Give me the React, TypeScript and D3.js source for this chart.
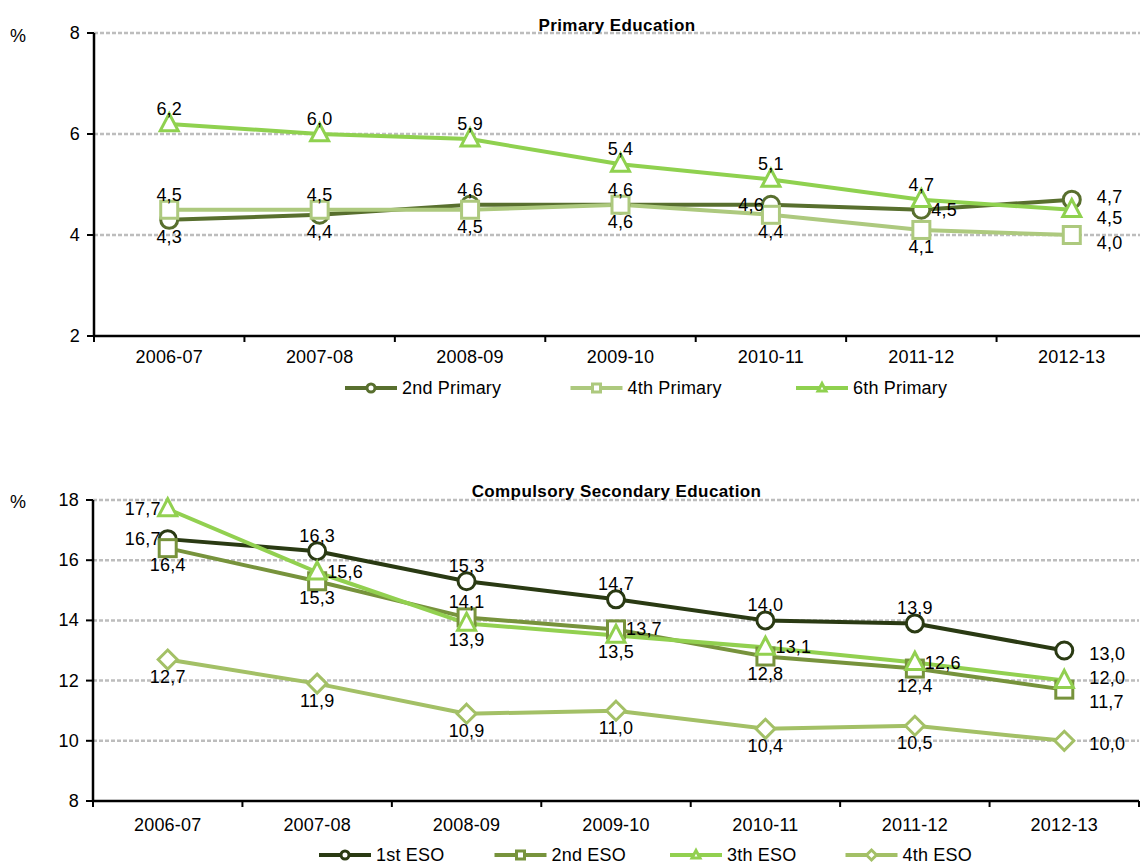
import React from "react";
import * as d3 from "d3";

// ---------- DATA ----------
const years = ["2006-07", "2007-08", "2008-09", "2009-10", "2010-11", "2011-12", "2012-13"];

const primaryTicks = [2, 4, 6, 8];
const secondaryTicks = [8, 10, 12, 14, 16, 18];

const primary2nd = [4.3, 4.4, 4.6, 4.6, 4.6, 4.5, 4.7];
const primary4th = [4.5, 4.5, 4.5, 4.6, 4.4, 4.1, 4.0];
const primary6th = [6.2, 6.0, 5.9, 5.4, 5.1, 4.7, 4.5];

const eso1st = [16.7, 16.3, 15.3, 14.7, 14.0, 13.9, 13.0];
const eso2nd = [16.4, 15.3, 14.1, 13.7, 12.8, 12.4, 11.7];
const eso3th = [17.7, 15.6, 13.9, 13.5, 13.1, 12.6, 12.0];
const eso4th = [12.7, 11.9, 10.9, 11.0, 10.4, 10.5, 10.0];

// data-label placement (t=top, b=bottom, l=left, r=right, R=far right, D=far right lower, U=far right upper, E=far right lowest)
const place2nd = ["b", "b", "t", "t", "l", "r", "U"];
const place4th = ["t", "t", "b", "b", "b", "b", "D"];
const place6th = ["t", "t", "t", "t", "t", "t", "D"];
const placeEso1 = ["l", "t", "t", "t", "t", "t", "R"];
const placeEso2 = ["b", "b", "t", "r", "b", "b", "E"];
const placeEso3 = ["l", "r", "b", "b", "r", "r", "U"];
const placeEso4 = ["b", "b", "b", "b", "b", "b", "R"];

// ---------- STYLE ----------
const FONT = "'Liberation Sans', Arial, sans-serif";
const FS = 18;
const LS = 0.2;

type Shape = "circle" | "square" | "triangle" | "diamond";
interface Series {
  name: string;
  values: number[];
  place: string[];
  color: string;
  shape: Shape;
}

const primarySeries: Series[] = [
  { name: "2nd Primary", values: primary2nd, place: place2nd, color: "#586f2e", shape: "circle" },
  { name: "4th Primary", values: primary4th, place: place4th, color: "#adc97e", shape: "square" },
  { name: "6th Primary", values: primary6th, place: place6th, color: "#8fd14f", shape: "triangle" },
];

const esoSeries: Series[] = [
  { name: "1st ESO", values: eso1st, place: placeEso1, color: "#2a3a13", shape: "circle" },
  { name: "2nd ESO", values: eso2nd, place: placeEso2, color: "#77933c", shape: "square" },
  { name: "3th ESO", values: eso3th, place: placeEso3, color: "#92d050", shape: "triangle" },
  { name: "4th ESO", values: eso4th, place: placeEso4, color: "#a3c066", shape: "diamond" },
];

function Marker({ x, y, shape, color, size, sw }: { x: number; y: number; shape: Shape; color: string; size: number; sw: number }) {
  const common = { fill: "#fff", stroke: color, strokeWidth: sw };
  if (shape === "circle") return <circle cx={x} cy={y} r={size / 2} {...common} />;
  if (shape === "square")
    return <rect x={x - size / 2} y={y - size / 2} width={size} height={size} {...common} />;
  if (shape === "triangle") {
    const h = size * 0.95;
    return (
      <path
        d={`M${x},${y - h * 0.6} L${x + size / 2},${y + h * 0.4} L${x - size / 2},${y + h * 0.4} Z`}
        {...common}
        strokeLinejoin="miter"
      />
    );
  }
  const s = size / 2 + 1;
  return <path d={`M${x},${y - s} L${x + s},${y} L${x},${y + s} L${x - s},${y} Z`} {...common} />;
}

const fmt = (v: number) => v.toFixed(1).replace(".", ",");

interface ChartProps {
  title: string;
  series: Series[];
  ticks: number[];
  left: number;
  right: number;
  top: number;
  bottom: number;
  titleY: number;
  percentY: number;
  xLabelY: number;
  legendY: number;
  legendStart: number;
  legendStep: number;
}

function Chart(p: ChartProps) {
  const x = d3.scaleBand<string>().domain(years).range([p.left, p.right]);
  const cx = (c: string) => (x(c) as number) + x.bandwidth() / 2;
  const y = d3
    .scaleLinear()
    .domain([p.ticks[0], p.ticks[p.ticks.length - 1]])
    .range([p.bottom, p.top]);
  const line = d3
    .line<number>()
    .x((_, i) => cx(years[i]))
    .y((v) => y(v));

  const boundaries = years.map((c) => x(c) as number).concat([p.right]);

  const labelFor = (s: Series, v: number, i: number) => {
    const px = cx(years[i]);
    const py = y(v);
    const pl = s.place[i];
    let tx = px, ty = py, anchor: "start" | "middle" | "end" = "middle";
    if (pl === "t") ty = py - 15 + 6;
    else if (pl === "b") ty = py + 17 + 6;
    else if (pl === "l") { tx = px - 7; ty = py + 6; anchor = "end"; }
    else if (pl === "r") { tx = px + 10; ty = py + 6; anchor = "start"; }
    else if (pl === "R") { tx = px + 25; ty = py + 9; anchor = "start"; }
    else if (pl === "D") { tx = px + 25; ty = py + 14; anchor = "start"; }
    else if (pl === "E") { tx = px + 25; ty = py + 18; anchor = "start"; }
    else if (pl === "U") { tx = px + 25; ty = py + 3; anchor = "start"; }
    return (
      <text key={`${s.name}-l-${i}`} x={tx} y={ty} textAnchor={anchor} fontSize={FS} letterSpacing={LS} fill="#000">
        {fmt(v)}
      </text>
    );
  };

  return (
    <g fontFamily={FONT}>
      {/* gridlines */}
      {p.ticks.slice(1).map((t) => (
        <line key={`g${t}`} x1={p.left} x2={p.right} y1={y(t)} y2={y(t)} stroke="#bdbdbd" strokeWidth={2.5} strokeDasharray="4,2" />
      ))}
      {/* title */}
      <text x={(p.left + 1140) / 2} y={p.titleY} textAnchor="middle" fontSize={17} fontWeight="bold" letterSpacing={0.4}>
        {p.title}
      </text>
      <text x={10} y={p.percentY} fontSize={FS} letterSpacing={LS}>%</text>
      {/* axes */}
      <line x1={p.left} x2={p.left} y1={p.top} y2={p.bottom} stroke="#000" strokeWidth={2.5} />
      <line x1={p.left} x2={p.right} y1={p.bottom} y2={p.bottom} stroke="#000" strokeWidth={2.5} />
      {p.ticks.map((t) => (
        <g key={`yt${t}`}>
          <line x1={p.left - 7} x2={p.left} y1={y(t)} y2={y(t)} stroke="#000" strokeWidth={2} />
          <text x={p.left - 14} y={y(t) + 6} textAnchor="end" fontSize={FS} letterSpacing={LS}>
            {t}
          </text>
        </g>
      ))}
      {boundaries.map((b, i) => (
        <line key={`xt${i}`} x1={b} x2={b} y1={p.bottom} y2={p.bottom + 6} stroke="#000" strokeWidth={2} />
      ))}
      {years.map((c) => (
        <text key={`xl${c}`} x={cx(c)} y={p.xLabelY} textAnchor="middle" fontSize={FS} letterSpacing={LS}>
          {c}
        </text>
      ))}
      {/* series lines */}
      {p.series.map((s) => (
        <path key={`p${s.name}`} d={line(s.values) as string} fill="none" stroke={s.color} strokeWidth={4} strokeLinejoin="round" />
      ))}
      {/* markers */}
      {p.series.map((s) =>
        s.values.map((v, i) => (
          <Marker key={`${s.name}-m-${i}`} x={cx(years[i])} y={y(v)} shape={s.shape} color={s.color} size={s.shape === "triangle" ? 18 : 17} sw={3} />
        ))
      )}
      {/* labels */}
      {p.series.map((s) => s.values.map((v, i) => labelFor(s, v, i)))}
      {/* legend */}
      {p.series.map((s, k) => {
        const mx = p.legendStart + k * p.legendStep;
        return (
          <g key={`lg${s.name}`}>
            <line x1={mx - 26} x2={mx + 26} y1={p.legendY} y2={p.legendY} stroke={s.color} strokeWidth={4} />
            <Marker x={mx} y={p.legendY} shape={s.shape} color={s.color} size={8} sw={3} />
            <text x={mx + 31} y={p.legendY + 6} fontSize={FS} letterSpacing={LS}>
              {s.name}
            </text>
          </g>
        );
      })}
    </g>
  );
}

export default function App() {
  return (
    <svg width={1140} height={866} style={{ position: "absolute", left: 0, top: 0, background: "#fff" }}>
      <rect width={1140} height={866} fill="#fff" />
      <Chart
        title="Primary Education"
        series={primarySeries}
        ticks={primaryTicks}
        left={94}
        right={1147}
        top={33}
        bottom={336}
        titleY={31}
        percentY={42}
        xLabelY={363}
        legendY={388}
        legendStart={371}
        legendStep={225.5}
      />
      <Chart
        title="Compulsory Secondary Education"
        series={esoSeries}
        ticks={secondaryTicks}
        left={93}
        right={1139}
        top={500}
        bottom={801}
        titleY={497}
        percentY={508}
        xLabelY={831}
        legendY={855}
        legendStart={345}
        legendStep={175.5}
      />
    </svg>
  );
}
